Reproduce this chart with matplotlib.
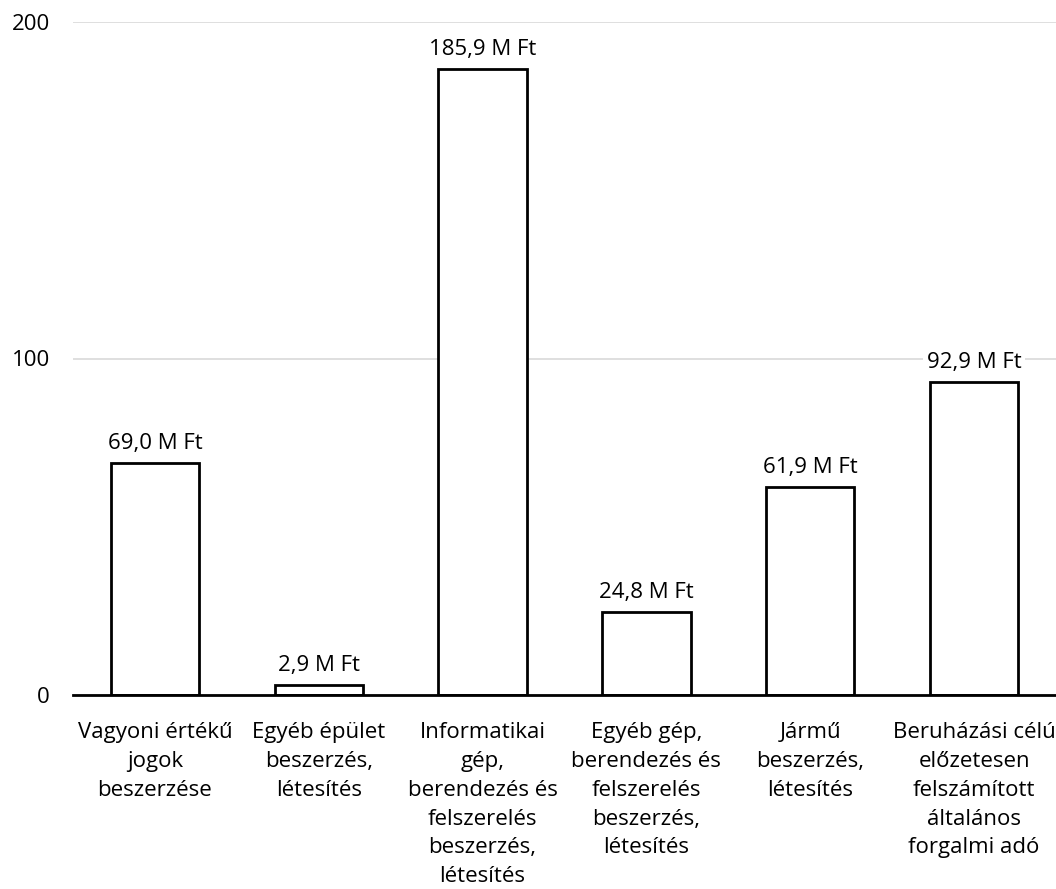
import matplotlib
matplotlib.use("Agg")
import matplotlib.pyplot as plt

categories = [
    "Vagyoni értékű\njogok\nbeszerzése",
    "Egyéb épület\nbeszerzés,\nlétesítés",
    "Informatikai\ngép,\nberendezés és\nfelszerelés\nbeszerzés,\nlétesítés",
    "Egyéb gép,\nberendezés és\nfelszerelés\nbeszerzés,\nlétesítés",
    "Jármű\nbeszerzés,\nlétesítés",
    "Beruházási célú\nelőzetesen\nfelszámított\náltalános\nforgalmi adó",
]
values = [69.0, 2.9, 185.9, 24.8, 61.9, 92.9]
labels = ["69,0 M Ft", "2,9 M Ft", "185,9 M Ft", "24,8 M Ft", "61,9 M Ft", "92,9 M Ft"]
yticks = [0, 100, 200]

plt.rcParams['font.family'] = ['Open Sans', 'DejaVu Sans']

fig = plt.figure(figsize=(10.56, 8.89), dpi=100)
ax = fig.add_axes([73/1056, 1-695/889, 1-73/1056, (695-22)/889])

x = list(range(len(values)))
ax.bar(x, values, width=0.54, color="white", edgecolor="black", linewidth=2, zorder=3)
ax.set_xlim(-0.5, len(values)-0.5)
ax.set_ylim(0, 200)
ax.set_yticks(yticks)
ax.set_yticklabels([str(t) for t in yticks], fontsize=16)
ax.set_xticks(x)
ax.set_xticklabels(categories, fontsize=16, linespacing=1.49, va="top")
ax.tick_params(axis="both", length=0)
ax.tick_params(axis="x", pad=19.5)
ax.tick_params(axis="y", pad=16.5)
for s in ["top", "right", "left"]:
    ax.spines[s].set_visible(False)
ax.spines["bottom"].set_linewidth(2)
ax.spines["bottom"].set_zorder(4)
ax.yaxis.grid(True, color="#d9d9d9", linewidth=1.2, zorder=0)
ax.set_axisbelow(True)

for xi, v, lab in zip(x, values, labels):
    ax.annotate(lab, (xi, v), xytext=(0, 6.5), textcoords="offset points",
                ha="center", va="bottom", fontsize=16, zorder=5,
                bbox=dict(boxstyle="square,pad=0.15", facecolor="white", edgecolor="none"))

fig.savefig("out.png", dpi=100)
